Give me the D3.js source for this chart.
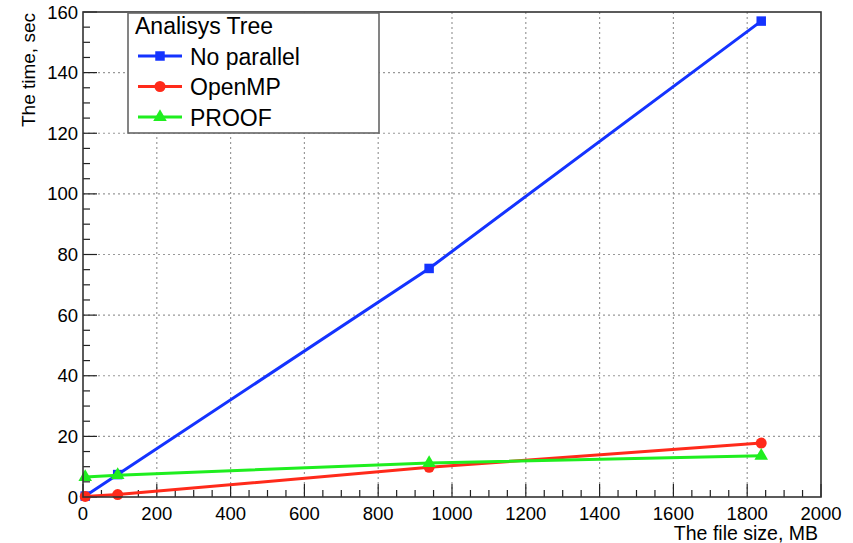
<!DOCTYPE html>
<html>
<head>
<meta charset="utf-8">
<script src="https://cdn.jsdelivr.net/npm/d3@7"></script>
<style>
  body { margin: 0; background: #fff; }
  text { font-family: "Liberation Sans", Arial, sans-serif; fill: #000; }
</style>
</head>
<body>
<script>
// file size (MB) for each run
const sizes = [6, 94, 938, 1838];
// run time (sec) for each method
const noParallel = [0.3, 7.4, 75.4, 157];
const openMP = [0.2, 0.8, 9.8, 17.8];
const proof = [6.6, 7.2, 11.2, 13.6];

const seriesNames = ["No parallel", "OpenMP", "PROOF"];
const xTicks = [0, 200, 400, 600, 800, 1000, 1200, 1400, 1600, 1800, 2000];
const yTicks = [0, 20, 40, 60, 80, 100, 120, 140, 160];

const W = 853, H = 543;
const fLeft = 83, fTop = 12, fRight = 821, fBottom = 497;

const svg = d3.select("body").append("svg")
    .attr("width", W).attr("height", H);

const x = d3.scaleLinear().domain([0, 2000]).range([fLeft, fRight]);
const y = d3.scaleLinear().domain([0, 160]).range([fBottom, fTop]);

// grid (dotted, major ticks only)
svg.append("g").selectAll("line")
    .data(xTicks.slice(1, -1)).enter().append("line")
    .attr("x1", d => x(d)).attr("x2", d => x(d))
    .attr("y1", fTop).attr("y2", fBottom)
    .attr("stroke", "#999").attr("stroke-width", 1.2)
    .attr("stroke-dasharray", "2,3");
svg.append("g").selectAll("line")
    .data(yTicks.slice(1, -1)).enter().append("line")
    .attr("x1", fLeft).attr("x2", fRight)
    .attr("y1", d => y(d)).attr("y2", d => y(d))
    .attr("stroke", "#999").attr("stroke-width", 1.2)
    .attr("stroke-dasharray", "2,3");

// ticks, pointing into the frame
const xMinor = d3.range(0, 2001, 50);
svg.append("g").selectAll("line")
    .data(xMinor).enter().append("line")
    .attr("x1", d => x(d)).attr("x2", d => x(d))
    .attr("y1", fBottom)
    .attr("y2", d => fBottom - (d % 200 === 0 ? 13 : 7))
    .attr("stroke", "#222").attr("stroke-width", 1.2);
const yMinor = d3.range(0, 161, 5);
svg.append("g").selectAll("line")
    .data(yMinor).enter().append("line")
    .attr("y1", d => y(d)).attr("y2", d => y(d))
    .attr("x1", fLeft)
    .attr("x2", d => fLeft + (d % 20 === 0 ? 14 : 7))
    .attr("stroke", "#222").attr("stroke-width", 1.2);

// tick labels
svg.append("g").selectAll("text")
    .data(xTicks).enter().append("text")
    .attr("x", d => x(d)).attr("y", fBottom + 23)
    .attr("text-anchor", "middle")
    .attr("font-size", 18.5)
    .text(d => d);
svg.append("g").selectAll("text")
    .data(yTicks).enter().append("text")
    .attr("x", fLeft - 5).attr("y", d => y(d) + 6.5)
    .attr("text-anchor", "end")
    .attr("font-size", 18.5)
    .text(d => d);

// axis titles
svg.append("text")
    .attr("x", fRight - 3).attr("y", 540)
    .attr("text-anchor", "end")
    .attr("font-size", 19.5)
    .text("The file size, MB");
svg.append("text")
    .attr("transform", "translate(35," + (fTop + 1) + ") rotate(-90)")
    .attr("text-anchor", "end")
    .attr("font-size", 19)
    .text("The time, sec");

// series
const series = [
  { name: seriesNames[0], values: noParallel, color: "#1433ff", marker: "square" },
  { name: seriesNames[1], values: openMP, color: "#ff2a1a", marker: "circle" },
  { name: seriesNames[2], values: proof, color: "#1fee1f", marker: "triangle" }
];

const line = d3.line().x(d => x(d[0])).y(d => y(d[1]));
const symbols = {
  square: d3.symbol().type(d3.symbolSquare).size(90),
  circle: d3.symbol().type(d3.symbolCircle).size(95),
  triangle: d3.symbol().type(d3.symbolTriangle).size(80)
};

series.forEach(s => {
  const pts = sizes.map((v, i) => [v, s.values[i]]);
  svg.append("path")
      .datum(pts)
      .attr("d", line)
      .attr("fill", "none")
      .attr("stroke", s.color)
      .attr("stroke-width", 3);
  svg.append("g").selectAll("path")
      .data(pts).enter().append("path")
      .attr("d", symbols[s.marker])
      .attr("transform", d => "translate(" + x(d[0]) + "," + y(d[1]) + ")")
      .attr("fill", s.color);
});

// frame
svg.append("rect")
    .attr("x", fLeft).attr("y", fTop)
    .attr("width", fRight - fLeft).attr("height", fBottom - fTop)
    .attr("fill", "none").attr("stroke", "#333").attr("stroke-width", 1.6);

// legend
const lg = svg.append("g");
lg.append("rect")
    .attr("x", 128).attr("y", 13)
    .attr("width", 251).attr("height", 120)
    .attr("fill", "#fff").attr("stroke", "#666").attr("stroke-width", 1.6);
lg.append("text")
    .attr("x", 135).attr("y", 34)
    .attr("font-size", 23)
    .text("Analisys Tree");
series.forEach((s, i) => {
  const cy = 56 + i * 30.5;
  lg.append("line")
      .attr("x1", 138).attr("x2", 182)
      .attr("y1", cy).attr("y2", cy)
      .attr("stroke", s.color).attr("stroke-width", 3);
  lg.append("path")
      .attr("d", symbols[s.marker])
      .attr("transform", "translate(160," + cy + ")")
      .attr("fill", s.color);
  lg.append("text")
      .attr("x", 190).attr("y", cy + 8.5)
      .attr("font-size", 23)
      .text(s.name);
});
</script>
</body>
</html>
